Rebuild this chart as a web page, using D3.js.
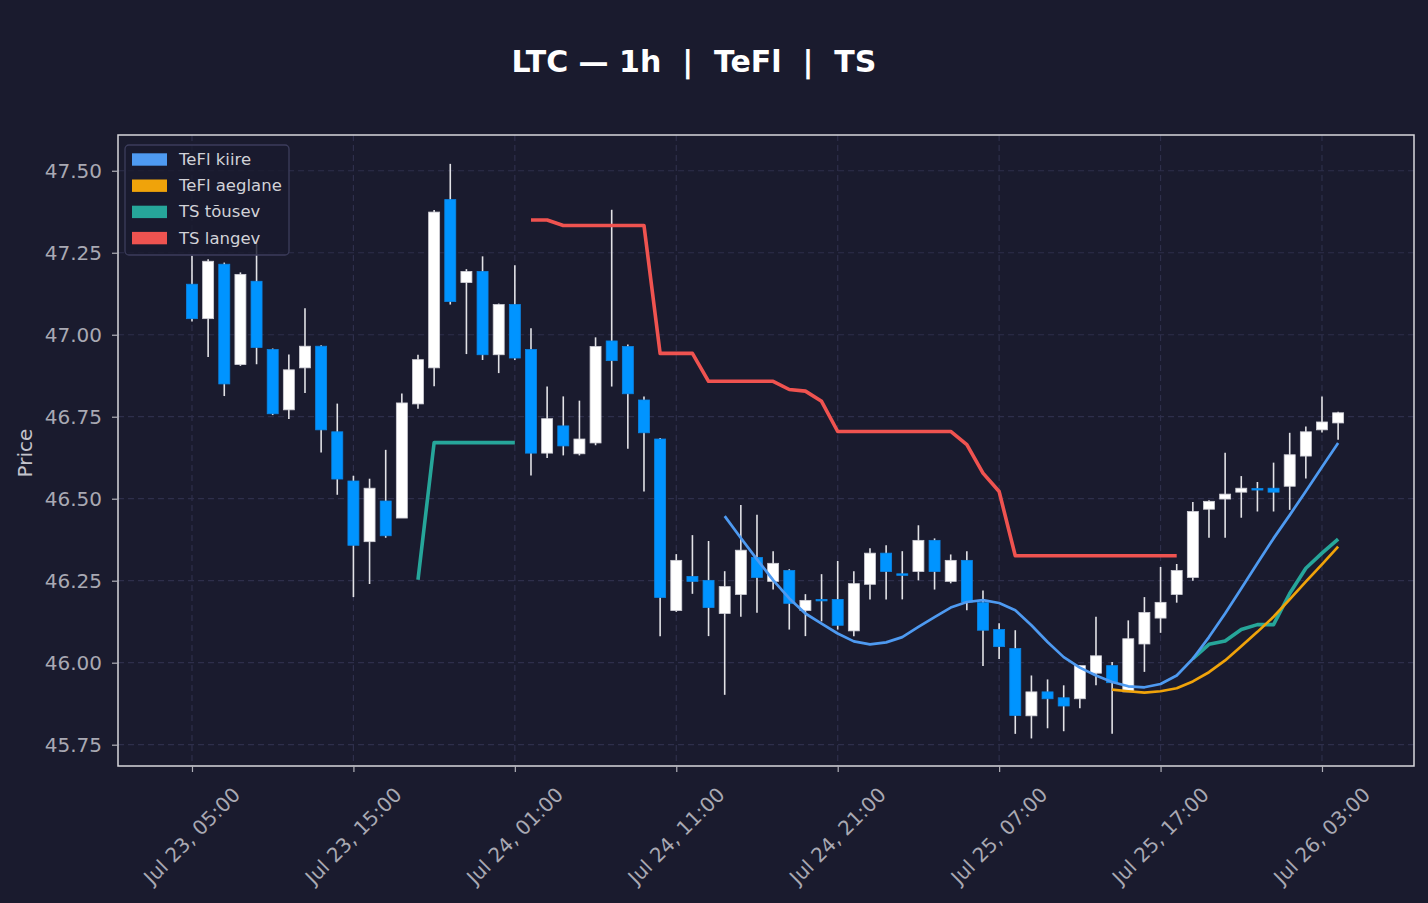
<!DOCTYPE html>
<html>
<head>
<meta charset="utf-8">
<script src="https://cdn.jsdelivr.net/npm/d3@7"></script>
<style>
  html, body { margin: 0; padding: 0; background: #1a1b2e; }
  svg { display: block; font-family: "DejaVu Sans", sans-serif; }
</style>
</head>
<body>
<div id="chart"></div>
<script>
// hourly candles, Jul 23 05:00 -> Jul 26 04:00
const startTime = "2025-07-23T05:00:00Z";
const candleCount = 72;

const opens = [47.154, 47.049, 47.215, 46.909, 47.163, 46.955, 46.771, 46.899, 46.965, 46.704,
  46.554, 46.369, 46.493, 46.441, 46.789, 46.899, 47.412, 47.159, 47.193, 46.939,
  47.092, 46.955, 46.639, 46.722, 46.637, 46.670, 46.981, 46.964, 46.801, 46.682,
  46.159, 46.263, 46.251, 46.150, 46.208, 46.321, 46.248, 46.281, 46.159, 46.193,
  46.193, 46.097, 46.239, 46.334, 46.271, 46.278, 46.373, 46.248, 46.312, 46.183,
  46.101, 46.043, 45.838, 45.911, 45.893, 45.890, 45.968, 45.991, 45.911, 46.057,
  46.136, 46.208, 46.260, 46.468, 46.499, 46.520, 46.531, 46.532, 46.538, 46.630,
  46.710, 46.731];
const highs = [47.241, 47.230, 47.220, 47.190, 47.277, 46.958, 46.940, 47.081, 46.968, 46.790,
  46.570, 46.561, 46.649, 46.821, 46.939, 47.380, 47.521, 47.200, 47.239, 47.095,
  47.212, 47.020, 46.842, 46.812, 46.799, 46.992, 47.381, 46.970, 46.812, 46.685,
  46.331, 46.389, 46.371, 46.279, 46.481, 46.451, 46.340, 46.285, 46.209, 46.270,
  46.310, 46.279, 46.349, 46.358, 46.340, 46.419, 46.379, 46.330, 46.340, 46.220,
  46.120, 46.099, 45.961, 45.949, 45.931, 45.993, 46.140, 46.002, 46.129, 46.200,
  46.292, 46.301, 46.490, 46.495, 46.640, 46.569, 46.551, 46.610, 46.701, 46.720,
  46.812, 46.765];
const lows = [47.040, 46.932, 46.813, 46.905, 46.910, 46.755, 46.743, 46.822, 46.641, 46.512,
  46.200, 46.240, 46.381, 46.441, 46.774, 46.843, 47.092, 46.941, 46.923, 46.883,
  46.923, 46.571, 46.624, 46.632, 46.632, 46.663, 46.842, 46.652, 46.522, 46.081,
  46.155, 46.210, 46.081, 45.902, 46.140, 46.152, 46.223, 46.101, 46.081, 46.126,
  46.101, 46.081, 46.193, 46.193, 46.193, 46.251, 46.223, 46.242, 46.160, 45.990,
  46.011, 45.783, 45.769, 45.800, 45.791, 45.861, 45.931, 45.783, 45.911, 45.972,
  46.091, 46.183, 46.250, 46.381, 46.381, 46.442, 46.461, 46.461, 46.466, 46.562,
  46.702, 46.680];
const closes = [47.049, 47.224, 46.850, 47.184, 46.961, 46.759, 46.893, 46.965, 46.710, 46.560,
  46.358, 46.532, 46.387, 46.792, 46.924, 47.374, 47.101, 47.193, 46.939, 47.092,
  46.929, 46.639, 46.744, 46.661, 46.682, 46.964, 46.921, 46.820, 46.701, 46.199,
  46.312, 46.248, 46.168, 46.232, 46.343, 46.260, 46.303, 46.181, 46.190, 46.191,
  46.114, 46.241, 46.334, 46.278, 46.269, 46.373, 46.278, 46.312, 46.185, 46.099,
  46.049, 45.839, 45.911, 45.890, 45.868, 45.991, 46.021, 45.939, 46.073, 46.153,
  46.184, 46.281, 46.461, 46.492, 46.514, 46.532, 46.529, 46.520, 46.634, 46.704,
  46.734, 46.762];

// indicator series: first candle index + values
const teflKiireStart = 33;
const teflKiire = [46.447, 46.380, 46.315, 46.252, 46.196, 46.150, 46.119, 46.089, 46.065, 46.056,
  46.062, 46.078, 46.109, 46.139, 46.168, 46.185, 46.191, 46.182, 46.160, 46.114,
  46.063, 46.017, 45.985, 45.961, 45.941, 45.928, 45.925, 45.935, 45.961, 46.012,
  46.078, 46.150, 46.226, 46.303, 46.379, 46.450, 46.523, 46.597, 46.670];
const teflAeglaneStart = 57;
const teflAeglane = [45.918, 45.913, 45.909, 45.913, 45.922, 45.943, 45.971, 46.007, 46.050, 46.094,
  46.140, 46.193, 46.247, 46.300, 46.354];
const tsTousevSegments = [
  { start: 14, values: [46.253, 46.671, 46.671, 46.671, 46.671, 46.671, 46.671] },
  { start: 62, values: [46.012, 46.056, 46.066, 46.101, 46.116, 46.116, 46.211, 46.288, 46.334, 46.377] }
];
const tsLangevStart = 21;
const tsLangev = [47.350, 47.350, 47.333, 47.333, 47.333, 47.333, 47.333, 47.333, 46.943, 46.943,
  46.943, 46.858, 46.858, 46.858, 46.858, 46.858, 46.833, 46.828, 46.797, 46.705,
  46.705, 46.705, 46.705, 46.705, 46.705, 46.705, 46.705, 46.665, 46.578, 46.522,
  46.326, 46.326, 46.326, 46.326, 46.326, 46.326, 46.326, 46.326, 46.326, 46.326,
  46.326];

const yTicks = [45.75, 46.00, 46.25, 46.50, 46.75, 47.00, 47.25, 47.50];
const xTickLabels = ["Jul 23, 05:00", "Jul 23, 15:00", "Jul 24, 01:00", "Jul 24, 11:00",
  "Jul 24, 21:00", "Jul 25, 07:00", "Jul 25, 17:00", "Jul 26, 03:00"];
const xTickTimes = ["2025-07-23T05:00:00Z", "2025-07-23T15:00:00Z", "2025-07-24T01:00:00Z",
  "2025-07-24T11:00:00Z", "2025-07-24T21:00:00Z", "2025-07-25T07:00:00Z",
  "2025-07-25T17:00:00Z", "2025-07-26T03:00:00Z"];

const legendNames = ["TeFl kiire", "TeFl aeglane", "TS tõusev", "TS langev"];
const legendColors = ["#4e9af1", "#f0a30a", "#26a69a", "#ef5350"];

/* ---------------- drawing ---------------- */
const W = 1428, H = 903;
const PLOT = { left: 118, right: 1414, top: 135, bottom: 766 };

const t0 = new Date(startTime);
const times = d3.utcHour.range(t0, d3.utcHour.offset(t0, candleCount));
const candles = times.map((t, i) => ({ t, o: opens[i], h: highs[i], l: lows[i], c: closes[i] }));

const x = d3.scaleUtc()
  .domain([d3.utcMinute.offset(t0, -275), d3.utcMinute.offset(t0, 75.7 * 60)])
  .range([PLOT.left, PLOT.right]);
const y = d3.scaleLinear()
  .domain([45.685, 47.609])
  .range([PLOT.bottom, PLOT.top]);

const svg = d3.select("#chart").append("svg")
  .attr("width", W).attr("height", H)
  .attr("viewBox", `0 0 ${W} ${H}`);

svg.append("rect").attr("width", W).attr("height", H).attr("fill", "#1a1b2e");

// title
svg.append("text")
  .attr("x", 694).attr("y", 72)
  .attr("text-anchor", "middle")
  .style("white-space", "pre")
  .attr("font-size", 30).attr("font-weight", "bold")
  .attr("fill", "#ffffff")
  .text("LTC — 1h  |  TeFl  |  TS");

const g = svg.append("g");

// grid
const tickDates = xTickTimes.map(s => new Date(s));
g.selectAll("line.gy").data(yTicks).join("line")
  .attr("class", "gy")
  .attr("x1", PLOT.left).attr("x2", PLOT.right)
  .attr("y1", d => y(d)).attr("y2", d => y(d))
  .attr("stroke", "#2e2f4b").attr("stroke-width", 1.2)
  .attr("stroke-dasharray", "6,4");
g.selectAll("line.gx").data(tickDates).join("line")
  .attr("class", "gx")
  .attr("y1", PLOT.top).attr("y2", PLOT.bottom)
  .attr("x1", d => x(d)).attr("x2", d => x(d))
  .attr("stroke", "#2e2f4b").attr("stroke-width", 1.2)
  .attr("stroke-dasharray", "6,4");

// candles
const bodyW = 11;
const cg = g.append("g");
cg.selectAll("line.wick").data(candles).join("line")
  .attr("class", "wick")
  .attr("x1", d => x(d.t)).attr("x2", d => x(d.t))
  .attr("y1", d => y(d.h)).attr("y2", d => y(d.l))
  .attr("stroke", "#e2e2e6").attr("stroke-width", 1.6);
cg.selectAll("rect.body").data(candles).join("rect")
  .attr("class", "body")
  .attr("x", d => x(d.t) - bodyW / 2)
  .attr("width", bodyW)
  .attr("y", d => y(Math.max(d.o, d.c)))
  .attr("height", d => Math.max(1.5, Math.abs(y(d.o) - y(d.c))))
  .attr("fill", d => d.c >= d.o ? "#ffffff" : "#0094ff")
  .attr("stroke", d => d.c >= d.o ? "#cfcfd6" : "#0b86e6")
  .attr("stroke-width", 0.8);

// indicator lines
const line = d3.line()
  .x(d => x(times[d.i]))
  .y(d => y(d.v));
const toPts = (start, vals) => vals.map((v, k) => ({ i: start + k, v }));

g.append("path").datum(toPts(tsLangevStart, tsLangev))
  .attr("d", line).attr("fill", "none")
  .attr("stroke", legendColors[3]).attr("stroke-width", 3.6).attr("stroke-linejoin", "round");
tsTousevSegments.forEach(seg => {
  g.append("path").datum(toPts(seg.start, seg.values))
    .attr("d", line).attr("fill", "none")
    .attr("stroke", legendColors[2]).attr("stroke-width", 3.6).attr("stroke-linejoin", "round");
});
g.append("path").datum(toPts(teflAeglaneStart, teflAeglane))
  .attr("d", line).attr("fill", "none")
  .attr("stroke", legendColors[1]).attr("stroke-width", 2.7).attr("stroke-linejoin", "round");
g.append("path").datum(toPts(teflKiireStart, teflKiire))
  .attr("d", line).attr("fill", "none")
  .attr("stroke", legendColors[0]).attr("stroke-width", 2.7).attr("stroke-linejoin", "round");

// frame
svg.append("rect")
  .attr("x", PLOT.left).attr("y", PLOT.top)
  .attr("width", PLOT.right - PLOT.left).attr("height", PLOT.bottom - PLOT.top)
  .attr("fill", "none").attr("stroke", "#d8d8dc").attr("stroke-width", 1.5);

// y axis
const yAxis = d3.axisLeft(y).tickValues(yTicks).tickFormat(d3.format(".2f")).tickSize(6).tickPadding(10);
const ya = svg.append("g").attr("transform", `translate(${PLOT.left},0)`).call(yAxis);
ya.select(".domain").remove();
ya.selectAll(".tick line").attr("stroke", "#b0b0b8").attr("stroke-width", 1.2);
ya.selectAll(".tick text").attr("fill", "#a9a9b3").attr("font-size", 20)
  .attr("font-family", "DejaVu Sans");

svg.append("text")
  .attr("transform", `translate(32,453) rotate(-90)`)
  .attr("text-anchor", "middle")
  .attr("font-size", 20).attr("fill", "#c4c4cc")
  .text("Price");

// x axis
const xAxis = d3.axisBottom(x).tickValues(tickDates).tickFormat("").tickSize(6);
const xa = svg.append("g").attr("transform", `translate(0,${PLOT.bottom})`).call(xAxis);
xa.select(".domain").remove();
xa.selectAll(".tick line").attr("stroke", "#b0b0b8").attr("stroke-width", 1.2);

const fs = 20;
tickDates.forEach((d, k) => {
  const t = svg.append("text")
    .attr("font-size", fs).attr("fill", "#a9a9b3")
    .attr("text-anchor", "middle").attr("dominant-baseline", "central")
    .text(xTickLabels[k]);
  const w = t.node().getComputedTextLength();
  const half = (w + fs * 1.15) * Math.SQRT1_2 / 2;
  t.attr("transform", `translate(${x(d)},${783 + half}) rotate(-45)`);
});

// legend
const lg = svg.append("g").attr("transform", "translate(125,145)");
lg.append("rect").attr("width", 164).attr("height", 110).attr("rx", 4)
  .attr("fill", "#1a1b2e").attr("fill-opacity", 0.82)
  .attr("stroke", "#3c3d5c").attr("stroke-width", 1.3);
legendNames.forEach((name, k) => {
  const cy = 14.5 + k * 26.2;
  lg.append("rect").attr("x", 7).attr("y", cy - 6.2).attr("width", 35).attr("height", 12.4)
    .attr("fill", legendColors[k]);
  lg.append("text").attr("x", 54).attr("y", cy).attr("dominant-baseline", "central")
    .attr("font-size", 16.5).attr("fill", "#d2d2d8").text(name);
});
</script>
</body>
</html>
